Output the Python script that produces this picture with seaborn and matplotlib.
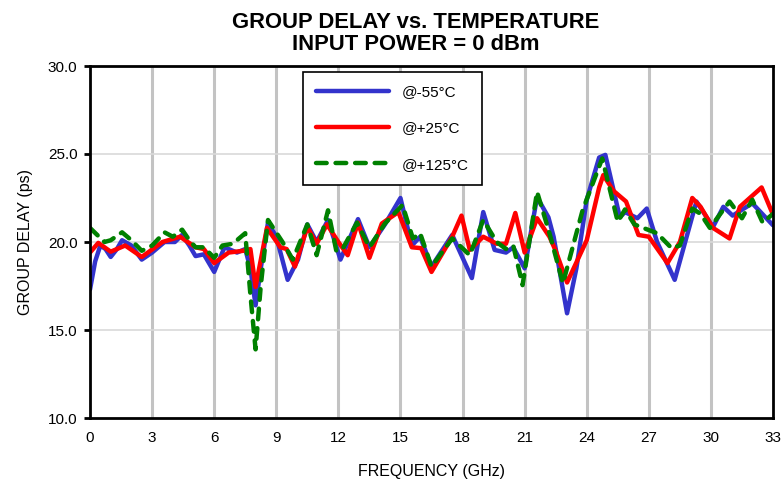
import numpy as np
import pandas as pd
import matplotlib
matplotlib.use("Agg")
import matplotlib.pyplot as plt
import seaborn as sns

# data (frequency in GHz, delay in ps)
freq_m55 = [0, 0.25, 0.5, 0.75, 1.0, 1.3, 1.55, 2.0, 2.5, 3.0, 3.6, 4.1, 4.45, 4.8, 5.1, 5.5,
            6.0, 6.5, 7.1, 7.5, 7.75, 8.0, 8.25, 8.6, 9.0, 9.55, 10.05, 10.5, 10.95, 11.5,
            12.1, 12.95, 13.5, 14.25, 15.0, 15.55, 15.95, 16.5, 17.5, 18.45, 19.0, 19.55,
            20.1, 20.45, 21.0, 21.6, 22.15, 22.4, 23.05, 23.5, 24.0, 24.6, 24.9, 25.6, 25.85,
            26.45, 26.9, 27.4, 28.25, 29.3, 30.1, 30.6, 31.05, 32.0, 33.0]
delay_m55 = [17.3, 18.9, 19.8, 19.6, 19.15, 19.6, 20.1, 19.8, 19.0, 19.4, 20.0, 20.0, 20.4, 19.8, 19.2, 19.3,
             18.3, 19.7, 19.4, 19.6, 18.5, 16.4, 18.5, 21.1, 20.3, 17.85, 19.0, 21.0, 20.0, 21.25,
             19.0, 21.3, 19.7, 21.0, 22.5, 19.8, 20.3, 18.6, 20.4, 17.95, 21.7, 19.55,
             19.4, 19.7, 18.5, 22.55, 21.4, 20.3, 15.95, 18.5, 22.4, 24.8, 24.95, 21.4, 21.7,
             21.35, 21.9, 20.0, 17.85, 22.3, 20.85, 22.0, 21.5, 22.2, 20.95]

freq_p25 = [0, 0.4, 1.0, 1.7, 2.5, 3.5, 4.35, 5.1, 5.5, 6.0, 6.7, 7.4, 7.75, 8.0, 8.55, 9.2,
            9.5, 9.9, 10.5, 10.95, 11.45, 12.0, 12.45, 12.95, 13.5, 14.1, 14.9, 15.55, 16.0,
            16.5, 17.5, 17.95, 18.35, 19.0, 19.65, 20.1, 20.55, 21.0, 21.6, 22.2, 22.5, 23.05,
            24.0, 24.6, 24.8, 25.3, 25.9, 26.5, 27.0, 27.9, 28.5, 29.1, 29.5, 30.1, 30.9,
            31.4, 32.45, 33.0]
delay_p25 = [19.4, 19.95, 19.45, 19.8, 19.15, 20.0, 20.3, 19.7, 19.6, 18.8, 19.4, 19.5, 19.6, 17.45, 20.8, 19.7,
             19.6, 18.6, 20.85, 19.9, 21.0, 20.0, 19.25, 21.1, 19.1, 21.05, 21.7, 19.7, 19.65,
             18.3, 20.3, 21.5, 19.55, 20.3, 19.9, 19.9, 21.65, 19.4, 21.35, 20.3, 19.5, 17.7,
             20.1, 23.1, 23.8, 22.9, 22.3, 20.4, 20.3, 18.8, 20.0, 22.5, 22.0, 20.8, 20.2,
             22.0, 23.1, 21.55]

freq_p125 = [0, 0.35, 0.7, 1.0, 1.55, 2.0, 2.5, 3.0, 3.6, 4.0, 4.45, 4.8, 5.1, 5.5, 6.0, 6.4,
             6.9, 7.5, 7.75, 8.0, 8.25, 8.6, 9.3, 9.8, 10.5, 10.95, 11.5, 11.9, 12.2, 12.9,
             13.5, 14.25, 15.1, 15.6, 15.95, 16.5, 17.5, 18.35, 19.0, 19.65, 20.1, 20.45, 20.9,
             21.6, 22.2, 22.85, 23.8, 24.75, 25.5, 25.85, 26.3, 26.95, 27.4, 28.1, 28.5, 29.1,
             29.5, 29.95, 30.9, 31.5, 32.0, 32.5, 33.0]
delay_p125 = [20.8, 20.4, 20.0, 20.1, 20.55, 20.1, 19.5, 19.8, 20.55, 20.3, 20.7, 20.1, 19.7, 19.7, 19.1, 19.8,
              19.9, 20.5, 17.0, 13.9, 17.5, 21.25, 20.0, 19.0, 21.0, 19.25, 21.8, 19.5, 19.6, 21.1,
              19.7, 21.05, 22.1, 20.2, 20.5, 18.6, 20.2, 19.25, 21.25, 20.0, 19.6, 19.8, 17.55,
              22.85, 20.5, 17.65, 21.8, 24.75, 21.15, 21.85, 21.0, 20.7, 20.5, 19.65, 19.8, 21.9,
              21.6, 20.8, 22.3, 21.35, 22.4, 21.1, 21.6]

labels = ["@-55\u00b0C", "@+25\u00b0C", "@+125\u00b0C"]
colors = ["#3333cc", "#ff0000", "#008000"]
x_ticks = list(range(0, 34, 3))
y_ticks = [10, 15, 20, 25, 30]

sns.set_theme(style="white")
plt.rcParams['font.family'] = ['Liberation Sans', 'DejaVu Sans']
plt.rcParams['text.color'] = 'black'
plt.rcParams['axes.labelcolor'] = 'black'
plt.rcParams['xtick.color'] = 'black'
plt.rcParams['ytick.color'] = 'black'

fig = plt.figure(figsize=(7.82, 4.83), dpi=100)
ax = fig.add_axes([90 / 782, 1 - 418 / 483, 683 / 782, 352 / 483])

# grid
for xv in x_ticks[1:-1]:
    ax.axvline(xv, color="#c3c3c3", lw=2.2, zorder=0)
for yv in y_ticks[1:-1]:
    ax.axhline(yv, color="#d9d9d9", lw=1.2, zorder=0)

series = [(freq_m55, delay_m55), (freq_p25, delay_p25), (freq_p125, delay_p125)]
for (f, d), lab, col in zip(series, labels, colors):
    df = pd.DataFrame({"freq": f, "delay": d})
    sns.lineplot(data=df, x="freq", y="delay", ax=ax, color=col, lw=3.2,
                 label=lab, sort=False, estimator=None)

line_g = ax.get_lines()[-1]
line_g.set_dashes((2.4, 2.0))
line_g.set_dash_capstyle("round")
for ln in ax.get_lines():
    ln.set_solid_joinstyle("round")
    ln.set_dash_joinstyle("round")

ax.set_xlim(0, 33)
ax.set_ylim(10, 30)
ax.set_xticks(x_ticks)
ax.set_yticks(y_ticks)
ax.set_yticklabels([f"{v:.1f}" for v in y_ticks])
ax.tick_params(axis="x", length=0, pad=9, labelsize=11)
ax.tick_params(axis="y", length=4, width=2, pad=5, labelsize=11, left=True)
for sp in ax.spines.values():
    sp.set_color("black")
    sp.set_linewidth(2)

ax.set_xlabel("FREQUENCY (GHz)", fontsize=11.5, labelpad=14)
ax.set_ylabel("GROUP DELAY (ps)", fontsize=11.5, labelpad=11)

leg = ax.legend(loc="upper left", bbox_to_anchor=(0.312, 0.982), fontsize=11,
                handlelength=4.8, labelspacing=1.45, borderpad=0.85, handletextpad=0.8,
                frameon=True, fancybox=False, framealpha=1, edgecolor="black",
                borderaxespad=0)
leg.get_frame().set_linewidth(1.2)

fig.text(416 / 782, 1 - 23 / 483, "GROUP DELAY vs. TEMPERATURE", ha="center", va="center",
         fontsize=15.8, fontweight="bold")
fig.text(416 / 782, 1 - 45 / 483, "INPUT POWER = 0 dBm", ha="center", va="center",
         fontsize=15.8, fontweight="bold")

fig.savefig("out.png", dpi=100)
